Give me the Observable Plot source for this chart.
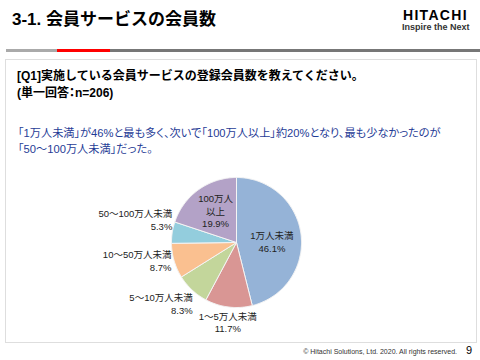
<!DOCTYPE html>
<html>
<head>
<meta charset="utf-8">
<script src="https://cdn.jsdelivr.net/npm/d3@7"></script>
<script src="https://cdn.jsdelivr.net/npm/@observablehq/plot@0.6"></script>
<style>
  html, body { margin: 0; padding: 0; background: #fff; }
  body { width: 480px; height: 360px; position: relative; overflow: hidden;
         font-family: "Liberation Sans", "Noto Sans CJK JP", sans-serif; color: #000; }
  .abs { position: absolute; white-space: nowrap; line-height: 1; }
  #title { left: 12px; top: 11px; font-size: 17px; font-weight: bold; }
  #logo1 { left: 403px; top: 8.5px; font-size: 14px; font-weight: bold; letter-spacing: 1.3px; line-height: 13px; }
  #logo2 { left: 402px; top: 23px; font-size: 9px; font-weight: bold; color: #333; line-height: 9px; }
  .bar { position: absolute; top: 49px; height: 3px; }
  #box { position: absolute; left: 5px; top: 59px; width: 470px; height: 282px; border: 1.5px solid #dedede; }
  #q1 { left: 17px; top: 70px; font-size: 12px; font-weight: bold; }
  #q2 { left: 17px; top: 87px; font-size: 12px; font-weight: bold; font-feature-settings: "palt"; }
  .blue { left: 18px; font-size: 11.2px; color: #1f3c96; font-feature-settings: "palt"; }
  #b1 { top: 127.5px; }
  #b2 { top: 143.5px; }
  #foot { right: 23px; top: 347.5px; font-size: 7px; color: #333; }
  #page { left: 466px; top: 344.5px; font-size: 11px; color: #000; }
  #chart { position: absolute; left: 21px; top: 152px; }
</style>
</head>
<body>
<div id="title" class="abs">3-1. 会員サービスの会員数</div>
<div id="logo1" class="abs">HITACHI</div>
<div id="logo2" class="abs">Inspire the Next</div>
<div class="bar" style="left:6px;width:51px;background:#aaaaaa"></div>
<div class="bar" style="left:57px;width:53px;background:#ff0000"></div>
<div class="bar" style="left:110px;width:370px;background:#777777"></div>
<div id="box"></div>
<div id="q1" class="abs">[Q1]実施している会員サービスの登録会員数を教えてください。</div>
<div id="q2" class="abs">(単一回答：n=206)</div>
<div id="b1" class="abs blue">「1万人未満」が46%と最も多く、次いで「100万人以上」約20%となり、最も少なかったのが</div>
<div id="b2" class="abs blue">「50～100万人未満」だった。</div>
<div id="chart"></div>
<div id="foot" class="abs">© Hitachi Solutions, Ltd. 2020. All rights reserved.</div>
<div id="page" class="abs">9</div>
<script>
// Data
const categories = ["1万人未満", "1～5万人未満", "5～10万人未満", "10～50万人未満", "50～100万人未満", "100万人以上"];
const shares = [46.1, 11.7, 8.3, 8.7, 5.3, 19.9];
const labelNames = ["1万人未満", "1～5万人未満", "5～10万人未満", "10～50万人未満", "50～100万人未満", "100万人\n以上"];
const sliceColors = ["#95B3D7", "#D99694", "#C3D69B", "#FAC090", "#93CDDD", "#B3A2C7"];

// Layout (label nudges in px: [dx, dy], dy positive = down)
const labelNudge = [[0, 3], [0, 8.5], [5, 9], [3.6, -2], [6.5, -12], [0, -3]];
const R = 65; // px per unit

const arcs = d3.pie().sort(null).value(d => d)(shares);

const rows = [];
arcs.forEach((a, i) => {
  const name = categories[i];
  rows.push({name, x: 0, y: 0});
  const n = Math.max(2, Math.ceil((a.endAngle - a.startAngle) / (Math.PI / 180)));
  for (let k = 0; k <= n; k++) {
    const t = a.startAngle + (a.endAngle - a.startAngle) * k / n;
    rows.push({name, x: Math.sin(t), y: Math.cos(t)});
  }
  rows.push({name, x: 0, y: 0});
});

const labels = arcs.map((a, i) => {
  const mid = (a.startAngle + a.endAngle) / 2;
  const inside = shares[i] > 15;
  const f = inside ? 0.55 : 1.1;
  const s = Math.sin(mid);
  const anchor = inside || Math.abs(s) < 0.3 ? "middle" : (s < 0 ? "end" : "start");
  return {
    x: f * Math.sin(mid) + labelNudge[i][0] / R,
    y: f * Math.cos(mid) - labelNudge[i][1] / R,
    text: `${labelNames[i]}\n${shares[i].toFixed(1)}%`,
    anchor
  };
});

const font = "Liberation Sans, Noto Sans CJK JP, sans-serif";
const textOpts = anchor => ({
  x: "x", y: "y", text: "text", textAnchor: anchor,
  fontSize: 9.5, lineHeight: 1.35, fill: "#222", fontFamily: font
});

const chart = Plot.plot({
  width: 300,
  height: 195,
  marginLeft: 150,
  marginRight: 20,
  marginTop: 25,
  marginBottom: 40,
  x: {domain: [-1, 1], axis: null},
  y: {domain: [-1, 1], axis: null},
  color: {domain: categories, range: sliceColors},
  style: {background: "transparent", overflow: "visible"},
  marks: [
    Plot.line(rows, {x: "x", y: "y", z: "name", fill: "name", stroke: "#f4f4f4", strokeWidth: 1, curve: "linear"}),
    Plot.text(labels.filter(d => d.anchor === "middle"), textOpts("middle")),
    Plot.text(labels.filter(d => d.anchor === "end"), textOpts("end")),
    Plot.text(labels.filter(d => d.anchor === "start"), textOpts("start"))
  ]
});
document.getElementById("chart").appendChild(chart);
</script>
</body>
</html>
